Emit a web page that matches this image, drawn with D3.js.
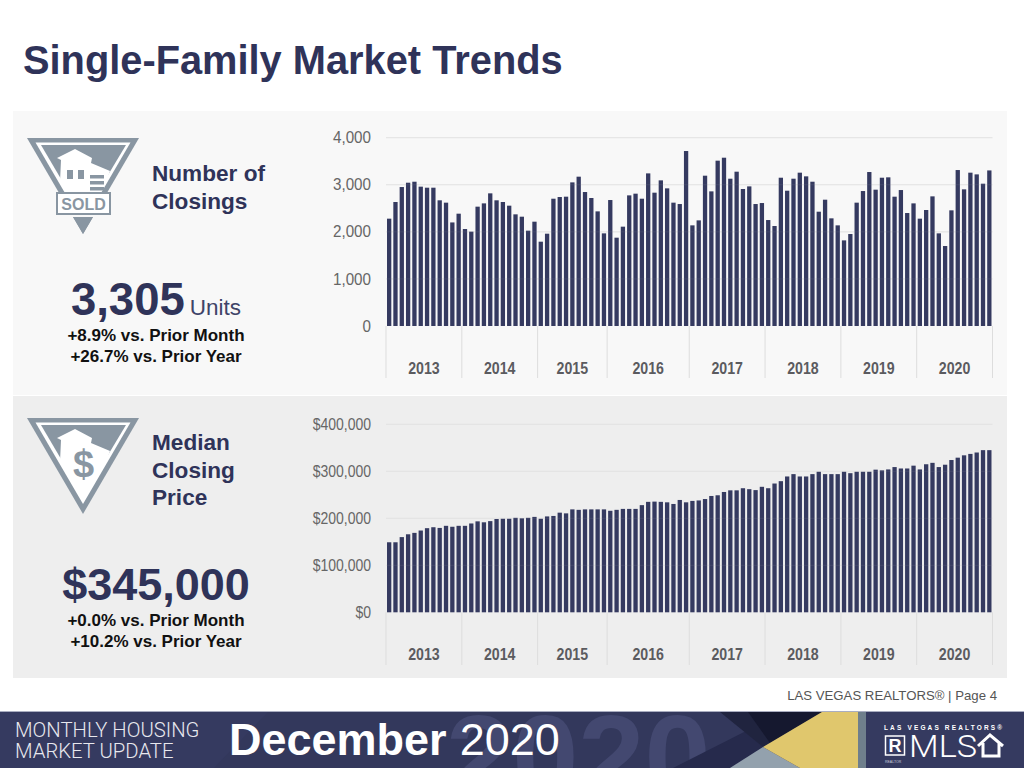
<!DOCTYPE html>
<html><head><meta charset="utf-8">
<script src="https://cdn.jsdelivr.net/npm/d3@7"></script>
<style>
html,body{margin:0;padding:0;background:#fff;overflow:hidden}
svg{display:block}
text{font-family:"Liberation Sans",Arial,sans-serif}
</style></head><body><svg id="c" width="1024" height="768"></svg>
<script>
const years=["2013","2014","2015","2016","2017","2018","2019","2020"];
const yearBarCounts=[12,12,11,13,12,12,12,12];
const closings=[2280,2634,2952,3044,3065,2960,2938,2938,2670,2620,2200,2386,
2060,2004,2535,2605,2818,2670,2634,2556,2372,2322,2025,2216,
1791,1961,2704,2740,2747,3051,3172,2846,2719,2435,1968,2676,
1876,2110,2775,2811,2704,3242,2832,3094,2924,2620,2591,3717,
2138,2244,3193,2860,3512,3575,3129,3278,2910,2966,2591,2612,
2251,2124,3150,2874,3129,3257,3179,3065,2428,2683,2287,2138,
1819,1954,2620,2867,3271,2896,3150,3158,2747,2888,2400,2605,
2280,2464,2754,1968,1699,2457,3313,2903,3257,3221,3023,3305];
const prices=[149,149,160,166,169,174,179,181,179.5,184,182,184,
184,189,193.5,191.5,194,198.5,199,199,201,200,201,203,
199,204,205,212,210.5,219,218,219,219,219,219,216,
218,220,220,220,228,235,235.5,235,234,230.5,239,234,
237,238,241,247.5,249,256,259.5,259.5,264,262,260,267,
264,274,279,289,294,289,289,294,299,294,294,294,
299,296,299,299,299,303.5,302,304,309,306,306,312,
304,315,318,309,314,324,329,334,337,340,345,345].map(v=>v*1000);
const closingTicks=[0,1000,2000,3000,4000];
const priceTicks=[0,100000,200000,300000,400000];
const ghostYear="2020";

const NAVY="#353a60",INK="#2f3359",GREY="#8996a2";
const svg=d3.select("#c");

svg.append("rect").attr("x",13).attr("y",111).attr("width",994).attr("height",284).attr("fill","#f8f8f8");
svg.append("rect").attr("x",13).attr("y",396).attr("width",994).attr("height",282).attr("fill","#eeeeee");

svg.append("text").attr("x",23).attr("y",74).attr("font-size",39.8).attr("font-weight",700)
  .attr("fill",INK).text("Single-Family Market Trends");

function chart(values,ticks,fmt,yMax,yZero,yTop,axisBottom,labelY,tickSx){
  const g=svg.append("g");
  const x=d3.scaleBand().domain(d3.range(values.length)).range([386,992.5]).paddingInner(0.32).paddingOuter(0.16);
  const y=d3.scaleLinear().domain([0,yMax]).range([yZero,yTop]);
  const yAxis=d3.axisLeft(y).tickValues(ticks).tickFormat(fmt).tickSize(0).tickPadding(0);
  const ga=g.append("g").attr("transform","translate(371,0)").call(yAxis);
  ga.select(".domain").remove();
  ga.selectAll("text").attr("font-size",16).attr("fill","#666").attr("transform",`scale(${tickSx},1)`)
    .style("font-family",'"Liberation Sans",Arial,sans-serif');
  g.append("g").selectAll("line").data(ticks.slice(1)).join("line")
    .attr("x1",386).attr("x2",992.5).attr("y1",d=>y(d)).attr("y2",d=>y(d))
    .attr("stroke","#e0e0e0").attr("stroke-width",1);
  g.append("g").selectAll("rect").data(values).join("rect")
    .attr("x",(d,i)=>x(i)).attr("width",x.bandwidth())
    .attr("y",d=>y(d)).attr("height",d=>y(0)-y(d)).attr("fill",NAVY);
  g.append("g").selectAll("line").data(ticks.slice(1)).join("line")
    .attr("x1",386).attr("x2",992.5).attr("y1",d=>y(d)).attr("y2",d=>y(d))
    .attr("stroke","#fff").attr("stroke-opacity",0.07).attr("stroke-width",1);
  let start=0;
  const groups=years.map((yr,i)=>{const s=start;start+=yearBarCounts[i];return {yr,s,e:start};});
  const edge=i=>i>=values.length?992.5:x(i)-x.step()*0.16;
  g.append("g").selectAll("line").data([...groups.map(d=>d.s),values.length]).join("line")
    .attr("x1",edge).attr("x2",edge).attr("y1",yZero).attr("y2",axisBottom)
    .attr("stroke","#dddddd").attr("stroke-width",1);
  g.append("g").selectAll("text").data(groups).join("text")
    .attr("x",d=>(edge(d.s)+edge(d.e))/2).attr("y",labelY).attr("text-anchor","middle")
    .attr("font-size",16).attr("font-weight",700).attr("fill","#5b5b5f")
    .attr("textLength",31.5).attr("lengthAdjust","spacingAndGlyphs").text(d=>d.yr);
}
chart(closings,closingTicks,d3.format(","),4000,326,137.7,378,374,0.95);
chart(prices,priceTicks,d=>"$"+d3.format(",")(d),400000,612.3,424.3,665,660,0.875);

function lines(arr,x,y,size,lh,weight,fill,anchor){
  arr.forEach((t,i)=>svg.append("text").attr("x",x).attr("y",y+i*lh).attr("font-size",size)
    .attr("font-weight",weight).attr("fill",fill).attr("text-anchor",anchor||"start").text(t));
}
lines(["Number of","Closings"],152,181,22.6,28,700,INK);
lines(["Median","Closing","Price"],152,450,22.6,27.5,700,INK);

const k=svg.append("text").attr("x",156).attr("y",315).attr("text-anchor","middle");
k.append("tspan").attr("font-size",45.5).attr("font-weight",700).attr("fill",INK).text("3,305");
k.append("tspan").attr("font-size",22.5).attr("fill","#3f4468").attr("dx",5).text("Units");
lines(["+8.9% vs. Prior Month","+26.7% vs. Prior Year"],156,341,17,21,700,"#111","middle");
lines(["$345,000"],156,600,45,0,700,INK,"middle");
lines(["+0.0% vs. Prior Month","+10.2% vs. Prior Year"],156,626,17,21,700,"#111","middle");

function poly(g,pts,fill){g.append("polygon").attr("points",pts.map(p=>p.join(",")).join(" ")).attr("fill",fill);}
function icon(dy,sold){
  const g=svg.append("g").attr("transform",`translate(0,${dy})`);
  poly(g,[[27,138],[139,138],[83,234]],GREY);
  poly(g,[[35.5,142.5],[130.5,142.5],[83,224]],"#fff");
  poly(g,[[41,145],[126,145],[108,175],[61,179]],GREY);
  poly(g,[[57,158],[75,149],[92,158],[91,163],[110,171],[106,182],[60,182],[61,160]],"#fff");
  if(sold){
    [[67,170],[78,170]].forEach(p=>g.append("rect").attr("x",p[0]).attr("y",p[1]).attr("width",6).attr("height",9).attr("fill",GREY));
    [175,181,187].forEach(y0=>g.append("rect").attr("x",90).attr("y",y0).attr("width",14).attr("height",3.5).attr("fill",GREY));
    g.append("rect").attr("x",57).attr("y",193).attr("width",53).attr("height",21).attr("fill","#fff").attr("stroke",GREY).attr("stroke-width",2);
    g.append("rect").attr("x",66).attr("y",215).attr("width",34).attr("height",2).attr("fill","#f8f8f8");
    poly(g,[[73,217],[93,217],[83,234]],GREY);
    g.append("text").attr("x",83.5).attr("y",210).attr("text-anchor","middle").attr("font-size",16).attr("font-weight",700).attr("fill",GREY).text("SOLD");
  }else{
    g.append("text").attr("x",83.5).attr("y",197).attr("text-anchor","middle").attr("font-size",38).attr("font-weight",700).attr("fill",GREY).text("$");
  }
}
icon(0,true);
icon(280,false);

lines(["LAS VEGAS REALTORS® | Page 4"],997,700,13.2,0,400,"#555","end");

// footer band
const clip=svg.append("clipPath").attr("id","band");
clip.append("rect").attr("x",0).attr("y",711).attr("width",1024).attr("height",57);
const f=svg.append("g").attr("clip-path","url(#band)");
f.append("rect").attr("x",0).attr("y",711).attr("width",1024).attr("height",57).attr("fill",NAVY);
poly(f,[[268,712],[1024,712],[1024,768],[214,768]],"#33385c");
f.append("text").attr("x",446).attr("y",798).attr("font-size",119).attr("font-weight",700).attr("fill","#434870").text(ghostYear);
poly(f,[[748,730],[763,747],[730,768],[673,768]],"#262a4c");
poly(f,[[720,712],[822,712],[763,747]],"#20243f");
poly(f,[[748,712],[822,712],[770,743]],"#15182f");
poly(f,[[763,747],[800,768],[730,768]],"#93a1ad");
poly(f,[[822,712],[858,712],[858,768],[800,768],[763,747]],"#e0c76d");
f.append("rect").attr("x",858).attr("y",712).attr("width",8).attr("height",56).attr("fill","#6f7f8c");
f.append("rect").attr("x",866).attr("y",712).attr("width",158).attr("height",56).attr("fill",NAVY);
f.append("rect").attr("x",0).attr("y",711).attr("width",1024).attr("height",1).attr("fill","#a9adc0");

f.append("text").attr("x",15).attr("y",737).attr("font-size",20.3).attr("fill","#e8e8ee").style("font-family","Roboto").attr("font-weight",300).text("MONTHLY HOUSING");
f.append("text").attr("x",15).attr("y",758).attr("font-size",20.3).attr("fill","#e8e8ee").style("font-family","Roboto").attr("font-weight",300).text("MARKET UPDATE");
const d=f.append("text").attr("x",229).attr("y",755).attr("font-size",45).attr("fill","#fff");
d.append("tspan").attr("font-weight",700).text("December");
d.append("tspan").attr("dx",13).text("2020");

f.append("text").attr("x",884).attr("y",730).attr("font-size",6.5).attr("font-weight",700).attr("letter-spacing",2.15).attr("fill","#fff").text("LAS VEGAS REALTORS®");
f.append("rect").attr("x",885.5).attr("y",736).attr("width",19).attr("height",19).attr("fill","none").attr("stroke","#fff").attr("stroke-width",1.5);
f.append("text").attr("x",895).attr("y",752).attr("text-anchor","middle").attr("font-size",18).attr("font-weight",700).attr("fill","#fff").text("R");
f.append("text").attr("x",885).attr("y",763).attr("font-size",3.5).attr("fill","#c9ccdc").text("REALTOR");
f.append("text").attr("x",909).attr("y",757).attr("font-size",31).attr("fill","#fff").attr("textLength",68).attr("lengthAdjust","spacingAndGlyphs").style("font-family","Roboto").attr("font-weight",300).text("MLS");
f.append("path").attr("d","M978 746 L990 735 L1003 746 M983 743 V756 H999 V743").attr("fill","none").attr("stroke","#fff").attr("stroke-width",3);
</script></body></html>
